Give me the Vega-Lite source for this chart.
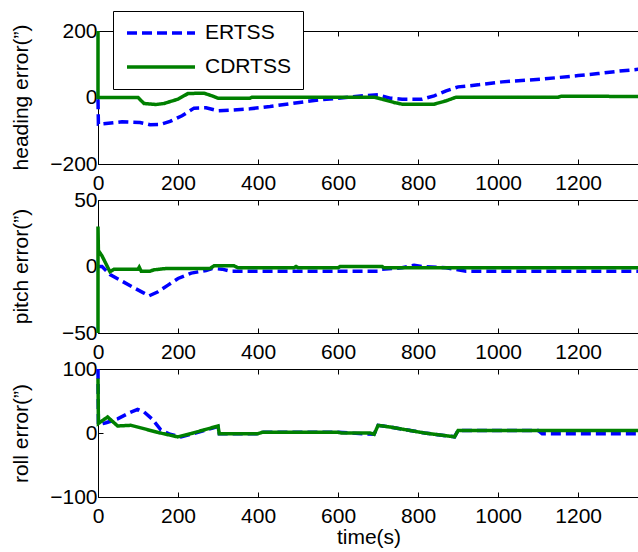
{
  "$schema": "https://vega.github.io/schema/vega-lite/v6.json",
  "padding": {"left": 9, "top": 10, "right": 0, "bottom": 0},
  "background": "white",
  "datasets": {
    "d": [
      {"p":"h","m":"ERTSS","i":1,"t":0,"v":-5},{"p":"h","m":"ERTSS","i":2,"t":1,"v":-80},{"p":"h","m":"ERTSS","i":3,"t":20,"v":-78},{"p":"h","m":"ERTSS","i":4,"t":60,"v":-73},{"p":"h","m":"ERTSS","i":5,"t":105,"v":-75},{"p":"h","m":"ERTSS","i":6,"t":130,"v":-82},{"p":"h","m":"ERTSS","i":7,"t":155,"v":-81},{"p":"h","m":"ERTSS","i":8,"t":180,"v":-72},{"p":"h","m":"ERTSS","i":9,"t":210,"v":-55},{"p":"h","m":"ERTSS","i":10,"t":240,"v":-32},{"p":"h","m":"ERTSS","i":11,"t":270,"v":-31},{"p":"h","m":"ERTSS","i":12,"t":300,"v":-40},{"p":"h","m":"ERTSS","i":13,"t":330,"v":-38},{"p":"h","m":"ERTSS","i":14,"t":380,"v":-34},{"p":"h","m":"ERTSS","i":15,"t":430,"v":-27},{"p":"h","m":"ERTSS","i":16,"t":483,"v":-18},{"p":"h","m":"ERTSS","i":17,"t":540,"v":-9},{"p":"h","m":"ERTSS","i":18,"t":600,"v":-2},{"p":"h","m":"ERTSS","i":19,"t":650,"v":4},{"p":"h","m":"ERTSS","i":20,"t":700,"v":8},{"p":"h","m":"ERTSS","i":21,"t":730,"v":-2},{"p":"h","m":"ERTSS","i":22,"t":760,"v":-5},{"p":"h","m":"ERTSS","i":23,"t":810,"v":-5},{"p":"h","m":"ERTSS","i":24,"t":840,"v":5},{"p":"h","m":"ERTSS","i":25,"t":870,"v":20},{"p":"h","m":"ERTSS","i":26,"t":900,"v":32},{"p":"h","m":"ERTSS","i":27,"t":950,"v":38},{"p":"h","m":"ERTSS","i":28,"t":1010,"v":47},{"p":"h","m":"ERTSS","i":29,"t":1107,"v":55},{"p":"h","m":"ERTSS","i":30,"t":1150,"v":60},{"p":"h","m":"ERTSS","i":31,"t":1200,"v":66},{"p":"h","m":"ERTSS","i":32,"t":1250,"v":72},{"p":"h","m":"ERTSS","i":33,"t":1300,"v":79},{"p":"h","m":"ERTSS","i":34,"t":1352,"v":85},
      {"p":"h","m":"CDRTSS","i":1,"t":0,"v":200},{"p":"h","m":"CDRTSS","i":2,"t":0,"v":0},{"p":"h","m":"CDRTSS","i":3,"t":100,"v":0},{"p":"h","m":"CDRTSS","i":4,"t":115,"v":-18},{"p":"h","m":"CDRTSS","i":5,"t":145,"v":-21},{"p":"h","m":"CDRTSS","i":6,"t":165,"v":-18},{"p":"h","m":"CDRTSS","i":7,"t":200,"v":-5},{"p":"h","m":"CDRTSS","i":8,"t":225,"v":12},{"p":"h","m":"CDRTSS","i":9,"t":265,"v":13},{"p":"h","m":"CDRTSS","i":10,"t":285,"v":5},{"p":"h","m":"CDRTSS","i":11,"t":300,"v":-2},{"p":"h","m":"CDRTSS","i":12,"t":380,"v":-2},{"p":"h","m":"CDRTSS","i":13,"t":385,"v":1},{"p":"h","m":"CDRTSS","i":14,"t":690,"v":1},{"p":"h","m":"CDRTSS","i":15,"t":710,"v":-5},{"p":"h","m":"CDRTSS","i":16,"t":740,"v":-15},{"p":"h","m":"CDRTSS","i":17,"t":760,"v":-20},{"p":"h","m":"CDRTSS","i":18,"t":840,"v":-20},{"p":"h","m":"CDRTSS","i":19,"t":870,"v":-10},{"p":"h","m":"CDRTSS","i":20,"t":895,"v":1},{"p":"h","m":"CDRTSS","i":21,"t":1150,"v":1},{"p":"h","m":"CDRTSS","i":22,"t":1158,"v":4},{"p":"h","m":"CDRTSS","i":23,"t":1352,"v":3},
      {"p":"p","m":"ERTSS","i":1,"t":0,"v":0},{"p":"p","m":"ERTSS","i":2,"t":10,"v":0},{"p":"p","m":"ERTSS","i":3,"t":30,"v":-6},{"p":"p","m":"ERTSS","i":4,"t":60,"v":-11},{"p":"p","m":"ERTSS","i":5,"t":90,"v":-16},{"p":"p","m":"ERTSS","i":6,"t":115,"v":-20},{"p":"p","m":"ERTSS","i":7,"t":128,"v":-22},{"p":"p","m":"ERTSS","i":8,"t":150,"v":-19},{"p":"p","m":"ERTSS","i":9,"t":175,"v":-14},{"p":"p","m":"ERTSS","i":10,"t":200,"v":-9},{"p":"p","m":"ERTSS","i":11,"t":233,"v":-5},{"p":"p","m":"ERTSS","i":12,"t":270,"v":-3},{"p":"p","m":"ERTSS","i":13,"t":285,"v":-1.5},{"p":"p","m":"ERTSS","i":14,"t":310,"v":-2},{"p":"p","m":"ERTSS","i":15,"t":330,"v":-3.5},{"p":"p","m":"ERTSS","i":16,"t":700,"v":-3.5},{"p":"p","m":"ERTSS","i":17,"t":710,"v":-2},{"p":"p","m":"ERTSS","i":18,"t":760,"v":-1},{"p":"p","m":"ERTSS","i":19,"t":790,"v":1},{"p":"p","m":"ERTSS","i":20,"t":810,"v":0},{"p":"p","m":"ERTSS","i":21,"t":870,"v":-1},{"p":"p","m":"ERTSS","i":22,"t":920,"v":-3.5},{"p":"p","m":"ERTSS","i":23,"t":1352,"v":-3.5},
      {"p":"p","m":"CDRTSS","i":1,"t":0,"v":-50},{"p":"p","m":"CDRTSS","i":2,"t":0,"v":30},{"p":"p","m":"CDRTSS","i":3,"t":1,"v":12},{"p":"p","m":"CDRTSS","i":4,"t":10,"v":8},{"p":"p","m":"CDRTSS","i":5,"t":20,"v":2},{"p":"p","m":"CDRTSS","i":6,"t":30,"v":-4},{"p":"p","m":"CDRTSS","i":7,"t":40,"v":-2},{"p":"p","m":"CDRTSS","i":8,"t":100,"v":-2},{"p":"p","m":"CDRTSS","i":9,"t":103,"v":-0.5},{"p":"p","m":"CDRTSS","i":10,"t":108,"v":-3.5},{"p":"p","m":"CDRTSS","i":11,"t":130,"v":-3.5},{"p":"p","m":"CDRTSS","i":12,"t":140,"v":-2.5},{"p":"p","m":"CDRTSS","i":13,"t":170,"v":-1.5},{"p":"p","m":"CDRTSS","i":14,"t":280,"v":-1.5},{"p":"p","m":"CDRTSS","i":15,"t":290,"v":0.5},{"p":"p","m":"CDRTSS","i":16,"t":340,"v":0.5},{"p":"p","m":"CDRTSS","i":17,"t":350,"v":-1},{"p":"p","m":"CDRTSS","i":18,"t":490,"v":-1},{"p":"p","m":"CDRTSS","i":19,"t":495,"v":0},{"p":"p","m":"CDRTSS","i":20,"t":500,"v":-1},{"p":"p","m":"CDRTSS","i":21,"t":600,"v":-1},{"p":"p","m":"CDRTSS","i":22,"t":605,"v":0},{"p":"p","m":"CDRTSS","i":23,"t":710,"v":0},{"p":"p","m":"CDRTSS","i":24,"t":715,"v":-1},{"p":"p","m":"CDRTSS","i":25,"t":1352,"v":-1},
      {"p":"r","m":"ERTSS","i":1,"t":0,"v":100},{"p":"r","m":"ERTSS","i":2,"t":1,"v":13},{"p":"r","m":"ERTSS","i":3,"t":20,"v":16},{"p":"r","m":"ERTSS","i":4,"t":49,"v":22},{"p":"r","m":"ERTSS","i":5,"t":80,"v":32},{"p":"r","m":"ERTSS","i":6,"t":99,"v":37},{"p":"r","m":"ERTSS","i":7,"t":115,"v":33},{"p":"r","m":"ERTSS","i":8,"t":135,"v":22},{"p":"r","m":"ERTSS","i":9,"t":157,"v":5},{"p":"r","m":"ERTSS","i":10,"t":180,"v":-2},{"p":"r","m":"ERTSS","i":11,"t":207,"v":-6},{"p":"r","m":"ERTSS","i":12,"t":232,"v":-2},{"p":"r","m":"ERTSS","i":13,"t":266,"v":4},{"p":"r","m":"ERTSS","i":14,"t":300,"v":10},{"p":"r","m":"ERTSS","i":15,"t":303,"v":-1},{"p":"r","m":"ERTSS","i":16,"t":400,"v":-1},{"p":"r","m":"ERTSS","i":17,"t":410,"v":1},{"p":"r","m":"ERTSS","i":18,"t":600,"v":1},{"p":"r","m":"ERTSS","i":19,"t":690,"v":-2},{"p":"r","m":"ERTSS","i":20,"t":700,"v":12},{"p":"r","m":"ERTSS","i":21,"t":733,"v":9},{"p":"r","m":"ERTSS","i":22,"t":816,"v":0},{"p":"r","m":"ERTSS","i":23,"t":891,"v":-6},{"p":"r","m":"ERTSS","i":24,"t":900,"v":4},{"p":"r","m":"ERTSS","i":25,"t":1100,"v":4},{"p":"r","m":"ERTSS","i":26,"t":1110,"v":-1},{"p":"r","m":"ERTSS","i":27,"t":1352,"v":-1},
      {"p":"r","m":"CDRTSS","i":1,"t":0,"v":85},{"p":"r","m":"CDRTSS","i":2,"t":1,"v":15},{"p":"r","m":"CDRTSS","i":3,"t":24,"v":25},{"p":"r","m":"CDRTSS","i":4,"t":49,"v":11},{"p":"r","m":"CDRTSS","i":5,"t":82,"v":12},{"p":"r","m":"CDRTSS","i":6,"t":107,"v":8},{"p":"r","m":"CDRTSS","i":7,"t":149,"v":1},{"p":"r","m":"CDRTSS","i":8,"t":199,"v":-6},{"p":"r","m":"CDRTSS","i":9,"t":232,"v":-1},{"p":"r","m":"CDRTSS","i":10,"t":266,"v":5},{"p":"r","m":"CDRTSS","i":11,"t":300,"v":11},{"p":"r","m":"CDRTSS","i":12,"t":303,"v":-1},{"p":"r","m":"CDRTSS","i":13,"t":400,"v":-1},{"p":"r","m":"CDRTSS","i":14,"t":410,"v":1},{"p":"r","m":"CDRTSS","i":15,"t":600,"v":1},{"p":"r","m":"CDRTSS","i":16,"t":610,"v":0},{"p":"r","m":"CDRTSS","i":17,"t":680,"v":0},{"p":"r","m":"CDRTSS","i":18,"t":690,"v":-2},{"p":"r","m":"CDRTSS","i":19,"t":700,"v":12},{"p":"r","m":"CDRTSS","i":20,"t":733,"v":9},{"p":"r","m":"CDRTSS","i":21,"t":816,"v":0},{"p":"r","m":"CDRTSS","i":22,"t":891,"v":-6},{"p":"r","m":"CDRTSS","i":23,"t":900,"v":4},{"p":"r","m":"CDRTSS","i":24,"t":1352,"v":4}
    ]
  },
  "data": {"name": "d"},
  "bounds": "flush",
  "spacing": 36,
  "config": {
    "font": "Liberation Sans",
    "view": {"stroke": "black", "strokeWidth": 1},
    "axis": {
      "grid": false, "domain": false, "tickColor": "black", "tickSize": -5, "tickWidth": 1,
      "labelFont": "Liberation Sans", "labelFontSize": 21, "labelColor": "black",
      "titleFont": "Liberation Sans", "titleFontSize": 21, "titleColor": "black", "titleFontWeight": "normal",
      "labelFlush": false, "labelOverlap": false, "format": "d"
    },
    "axisX": {"labelPadding": 13},
    "axisY": {"labelPadding": 6},
    "legend": {
      "orient": "none", "legendX": 15, "legendY": -20,
      "strokeColor": "black", "fillColor": "white", "padding": 12,
      "symbolType": "stroke", "symbolSize": 4624, "symbolStrokeWidth": 3.5, "clipHeight": 20, "rowPadding": 13,
      "labelFont": "Liberation Sans", "labelFontSize": 21, "labelColor": "black", "labelOffset": 8
    }
  },
  "vconcat": [
    {
      "width": 541, "height": 133,
      "resolve": {"axis": {"x": "independent"}},
      "layer": [
        {"transform": [{"filter": "datum.p == 'h' && datum.m == 'ERTSS'"}],
         "mark": {"type": "line", "strokeWidth": 3.5},
         "encoding": {
           "x": {"field": "t", "type": "quantitative", "scale": {"domain": [0, 1352], "nice": false, "zero": false}, "axis": {"values": [0,200,400,600,800,1000,1200], "title": null}},
           "y": {"field": "v", "type": "quantitative", "scale": {"domain": [-200, 200], "nice": false}, "axis": {"values": [-200, 0, 200], "title": "heading error(”)", "titleX": -77, "titleY": 66, "titleAngle": -90, "titleAlign": "center", "titleBaseline": "middle"}},
           "color": {"field": "m", "type": "nominal", "scale": {"domain": ["ERTSS", "CDRTSS"], "range": ["#0000ff", "#008000"]}, "legend": {"title": null}},
           "strokeDash": {"field": "m", "type": "nominal", "scale": {"domain": ["ERTSS", "CDRTSS"], "range": [[10, 5], [1, 0]]}, "legend": {"title": null}},
           "order": {"field": "i", "type": "quantitative"}
         }},
        {"transform": [{"filter": "datum.p == 'h' && datum.m == 'CDRTSS'"}],
         "mark": {"type": "line", "strokeWidth": 3.5},
         "encoding": {
           "x": {"field": "t", "type": "quantitative", "axis": null},
           "y": {"field": "v", "type": "quantitative"},
           "color": {"field": "m", "type": "nominal"},
           "strokeDash": {"field": "m", "type": "nominal"},
           "order": {"field": "i", "type": "quantitative"}
         }},
        {"transform": [{"filter": "datum.p == 'h'"}],
         "mark": {"type": "point", "opacity": 0},
         "encoding": {
           "x": {"field": "t", "type": "quantitative", "axis": {"orient": "top", "values": [0,200,400,600,800,1000,1200], "labels": false, "title": null}},
           "y": {"field": "v", "type": "quantitative"}
         }}
      ]
    },
    {
      "width": 541, "height": 133,
      "resolve": {"axis": {"x": "independent"}},
      "layer": [
        {"transform": [{"filter": "datum.p == 'p' && datum.m == 'ERTSS'"}],
         "mark": {"type": "line", "strokeWidth": 3.5},
         "encoding": {
           "x": {"field": "t", "type": "quantitative", "scale": {"domain": [0, 1352], "nice": false, "zero": false}, "axis": {"values": [0,200,400,600,800,1000,1200], "title": null}},
           "y": {"field": "v", "type": "quantitative", "scale": {"domain": [-50, 50], "nice": false}, "axis": {"values": [-50, 0, 50], "title": "pitch error(”)", "titleX": -77, "titleY": 66, "titleAngle": -90, "titleAlign": "center", "titleBaseline": "middle"}},
           "color": {"field": "m", "type": "nominal"},
           "strokeDash": {"field": "m", "type": "nominal"},
           "order": {"field": "i", "type": "quantitative"}
         }},
        {"transform": [{"filter": "datum.p == 'p' && datum.m == 'CDRTSS'"}],
         "mark": {"type": "line", "strokeWidth": 3.5},
         "encoding": {
           "x": {"field": "t", "type": "quantitative", "axis": null},
           "y": {"field": "v", "type": "quantitative"},
           "color": {"field": "m", "type": "nominal"},
           "strokeDash": {"field": "m", "type": "nominal"},
           "order": {"field": "i", "type": "quantitative"}
         }},
        {"transform": [{"filter": "datum.p == 'p'"}],
         "mark": {"type": "point", "opacity": 0},
         "encoding": {
           "x": {"field": "t", "type": "quantitative", "axis": {"orient": "top", "values": [0,200,400,600,800,1000,1200], "labels": false, "title": null}},
           "y": {"field": "v", "type": "quantitative"}
         }}
      ]
    },
    {
      "width": 541, "height": 128,
      "resolve": {"axis": {"x": "independent"}},
      "layer": [
        {"transform": [{"filter": "datum.p == 'r' && datum.m == 'ERTSS'"}],
         "mark": {"type": "line", "strokeWidth": 3.5},
         "encoding": {
           "x": {"field": "t", "type": "quantitative", "scale": {"domain": [0, 1352], "nice": false, "zero": false}, "axis": {"values": [0,200,400,600,800,1000,1200], "title": "time(s)", "titlePadding": 0}},
           "y": {"field": "v", "type": "quantitative", "scale": {"domain": [-100, 100], "nice": false}, "axis": {"values": [-100, 0, 100], "title": "roll error(”)", "titleX": -77, "titleY": 64, "titleAngle": -90, "titleAlign": "center", "titleBaseline": "middle"}},
           "color": {"field": "m", "type": "nominal"},
           "strokeDash": {"field": "m", "type": "nominal"},
           "order": {"field": "i", "type": "quantitative"}
         }},
        {"transform": [{"filter": "datum.p == 'r' && datum.m == 'CDRTSS'"}],
         "mark": {"type": "line", "strokeWidth": 3.5},
         "encoding": {
           "x": {"field": "t", "type": "quantitative", "axis": null},
           "y": {"field": "v", "type": "quantitative"},
           "color": {"field": "m", "type": "nominal"},
           "strokeDash": {"field": "m", "type": "nominal"},
           "order": {"field": "i", "type": "quantitative"}
         }},
        {"transform": [{"filter": "datum.p == 'r'"}],
         "mark": {"type": "point", "opacity": 0},
         "encoding": {
           "x": {"field": "t", "type": "quantitative", "axis": {"orient": "top", "values": [0,200,400,600,800,1000,1200], "labels": false, "title": null}},
           "y": {"field": "v", "type": "quantitative"}
         }}
      ]
    }
  ]
}
